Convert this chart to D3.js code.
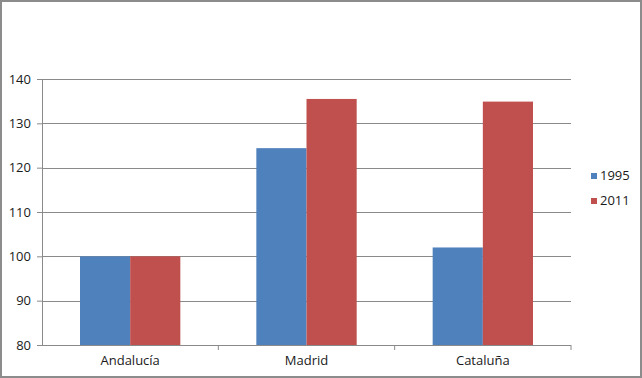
<!DOCTYPE html>
<html>
<head>
<meta charset="utf-8">
<script src="https://cdn.jsdelivr.net/npm/d3@7"></script>
<style>
  body { margin: 0; background: #fff; }
  text { font-family: "Open Sans", "Liberation Sans", sans-serif; fill: #1a1a1a; }
</style>
</head>
<body>
<div id="chart"></div>
<script>
// data
const regions = ["Andalucía", "Madrid", "Cataluña"];
const years = ["1995", "2011"];
const values1995 = [100, 124.4, 102];
const values2011 = [100, 135.5, 134.9];
const yTicks = [80, 90, 100, 110, 120, 130, 140];
const colours = ["#4F81BD", "#C0504D"];

const width = 642, height = 378;
const margin = {top: 79, right: 71, bottom: 33, left: 42};

const svg = d3.select("#chart").append("svg")
    .attr("width", width)
    .attr("height", height);

// outer frame
svg.append("rect")
    .attr("x", 1).attr("y", 1)
    .attr("width", width - 2).attr("height", height - 2)
    .attr("fill", "#fff")
    .attr("stroke", "#8c8c8c")
    .attr("stroke-width", 2);

const g = svg.append("g")
    .attr("transform", `translate(${margin.left},${margin.top})`);

const w = width - margin.left - margin.right;
const h = height - margin.top - margin.bottom;

const x = d3.scaleBand().domain(regions).range([0, w]).paddingInner(0).paddingOuter(0);
const inner = d3.scaleBand().domain(years).range([38, x.bandwidth() - 38]);
const y = d3.scaleLinear().domain([80, 140]).range([h, 0]);

// gridlines
g.append("g")
    .selectAll("line")
    .data(yTicks.slice(1))
    .join("line")
    .attr("x1", 0).attr("x2", w)
    .attr("y1", d => Math.round(y(d)) + 0.5)
    .attr("y2", d => Math.round(y(d)) + 0.5)
    .attr("stroke", "#8a8a8a");

// bars
const rows = regions.map((r, i) => ({region: r, vals: [values1995[i], values2011[i]]}));
g.append("g")
    .selectAll("g")
    .data(rows)
    .join("g")
    .attr("transform", d => `translate(${x(d.region)},0)`)
    .selectAll("rect")
    .data(d => d.vals.map((v, j) => ({year: years[j], v, j})))
    .join("rect")
    .attr("x", d => inner(d.year))
    .attr("width", inner.bandwidth())
    .attr("y", d => y(d.v))
    .attr("height", d => y(80) - y(d.v))
    .attr("fill", d => colours[d.j]);

// y axis
const yAxis = g.append("g")
    .call(d3.axisLeft(y).tickValues(yTicks).tickSize(5).tickPadding(6));
yAxis.select(".domain").attr("stroke", "#8a8a8a").attr("d", `M0.5,0V${h}`);
yAxis.selectAll(".tick line").attr("stroke", "#8a8a8a");
yAxis.selectAll("text").attr("font-size", 13).attr("fill", "#1a1a1a");

// x axis with ticks at band boundaries
const xAxis = g.append("g")
    .attr("transform", `translate(0,${h})`);
xAxis.append("line")
    .attr("x1", 0).attr("x2", w)
    .attr("y1", 0.5).attr("y2", 0.5)
    .attr("stroke", "#8a8a8a");
xAxis.selectAll("line.tk")
    .data(regions)
    .join("line")
    .attr("class", "tk")
    .attr("x1", d => x(d) + x.bandwidth())
    .attr("x2", d => x(d) + x.bandwidth())
    .attr("y1", 0).attr("y2", 5)
    .attr("stroke", "#8a8a8a");
xAxis.selectAll("text")
    .data(regions)
    .join("text")
    .attr("x", d => x(d) + x.bandwidth() / 2)
    .attr("y", 20)
    .attr("text-anchor", "middle")
    .attr("font-size", 13)
    .text(d => d);

// legend
const legend = svg.append("g")
    .attr("transform", "translate(591,173)");
const items = legend.selectAll("g")
    .data(years)
    .join("g")
    .attr("transform", (d, i) => `translate(0,${i * 25})`);
items.append("rect")
    .attr("width", 6).attr("height", 6)
    .attr("fill", (d, i) => colours[i]);
items.append("text")
    .attr("x", 9).attr("y", 7)
    .attr("font-size", 13)
    .text(d => d);
</script>
</body>
</html>
